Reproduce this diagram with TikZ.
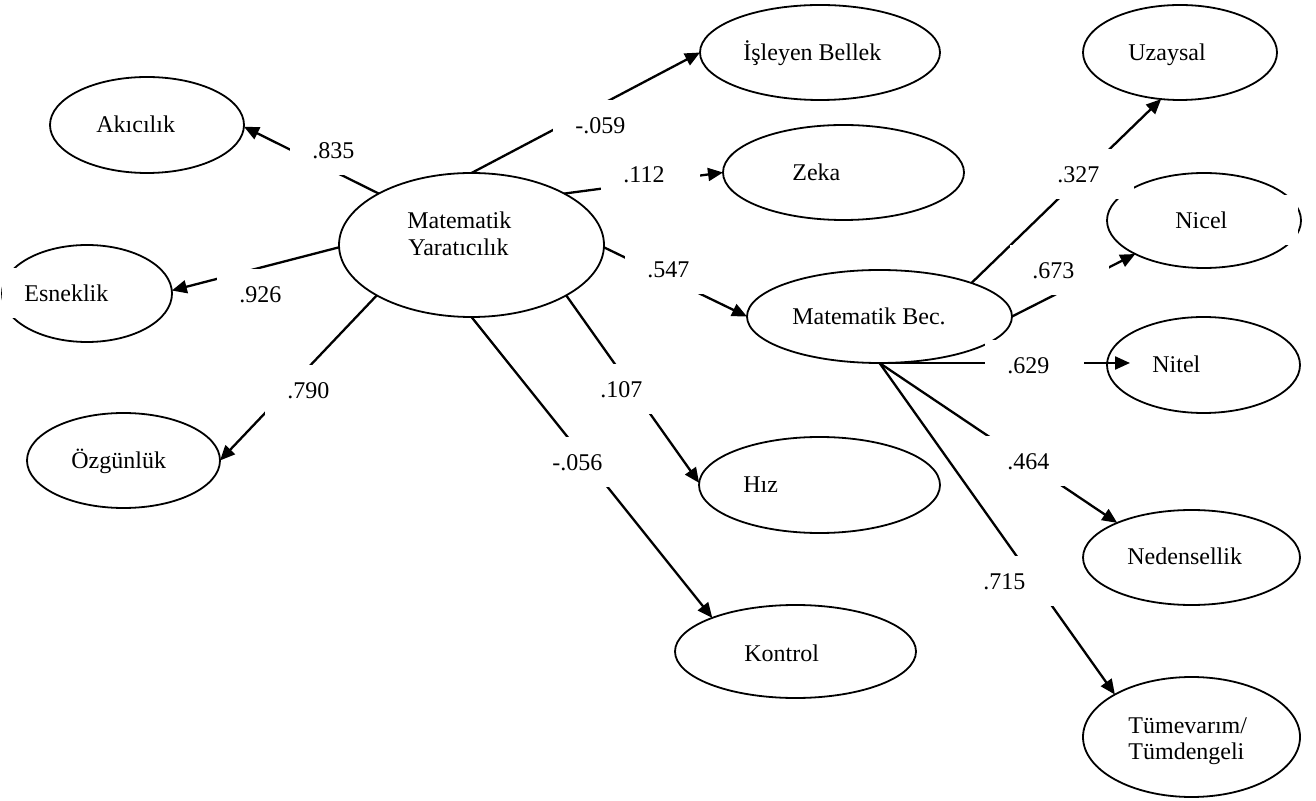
\documentclass[tikz,border=0pt]{standalone}
\usepackage{fontspec}
\setmainfont{Liberation Serif}
\usetikzlibrary{arrows.meta,calc,shapes.geometric}
\begin{document}
\begin{tikzpicture}[x=0.5pt,y=-0.5pt,
  ell/.style={ellipse,draw,line width=0.9pt,inner sep=0pt,outer sep=0pt},
  txt/.style={anchor=base west,inner sep=0pt,font=\fontsize{12}{14}\selectfont},
  lbl/.style={anchor=north west,fill=white,inner xsep=11pt,inner ysep=0pt,text width=27.5pt,align=left,text height=8pt,text depth=0pt,minimum height=25pt,font=\fontsize{12}{14}\selectfont},
  arr/.style={line width=1.15pt,-{Triangle[length=7.5pt,width=6.5pt]}}]
\useasboundingbox (0,0) rectangle (1316,801);
% ellipses
\node[ell,minimum width=97pt,minimum height=48pt] (ak) at (147,125) {};
\node[ell,minimum width=85pt,minimum height=48.5pt] (es) at (87,293.5) {};
\node[ell,minimum width=96.5pt,minimum height=47.5pt] (oz) at (123.5,460.5) {};
\node[ell,minimum width=132.5pt,minimum height=72pt] (ym) at (471.5,245) {};
\node[ell,minimum width=120pt,minimum height=47.5pt] (ib) at (820,52.5) {};
\node[ell,minimum width=120.5pt,minimum height=47.5pt] (ze) at (843.5,172.5) {};
\node[ell,minimum width=132.5pt,minimum height=46.5pt] (mb) at (879.5,316.5) {};
\node[ell,minimum width=120.5pt,minimum height=48pt] (hi) at (819.5,485) {};
\node[ell,minimum width=120.5pt,minimum height=46.5pt] (ko) at (795.5,651.5) {};
\node[ell,minimum width=97pt,minimum height=47.5pt] (uz) at (1180,52.5) {};
\node[ell,minimum width=97pt,minimum height=47.5pt] (ni) at (1204,220.5) {};
\node[ell,minimum width=96.5pt,minimum height=48pt] (nt) at (1203.5,365) {};
\node[ell,minimum width=108.5pt,minimum height=47.5pt] (ne) at (1191.5,557.5) {};
\node[ell,minimum width=108.5pt,minimum height=60pt] (tu) at (1191.5,737) {};
% connectors
\draw[arr] (ym.151) -- (ak.359);
\draw[arr] (ym.181) -- (es.2);
\draw[arr] (ym.208) -- (oz.0);
\draw[arr] (ym.90) -- (ib.180);
\draw[arr] (ym.29) -- (ze.180);
\draw[arr] (ym.359) -- (mb.180);
\draw[arr] (ym.332) -- (hi.179);
\draw[arr] (ym.270) -- (ko.158);
\draw[arr] (mb.20) -- (uz.248);
\draw[arr] (mb.0) -- (ni.206);
\coordinate (ntin) at ($(mb.south -| nt.west)+(23,0)$);
\draw[arr] (mb.south) -- (ntin);
\draw[arr] (mb.south) -- (ne.155);
\draw[arr] (mb.south) -- (tu.151);
% coefficient labels
\node[lbl] (l1) at (290,125) {.835};
\node[lbl] (l2) at (217,269) {.926};
\node[lbl] (l3) at (265,365) {.790};
\node[lbl] (l4) at (553,100) {-.059};
\node[lbl] (l5) at (601,149) {.112};
\node[lbl] (l6) at (625,244) {.547};
\node[lbl] (l7) at (578,364) {.107};
\node[lbl] (l8) at (530,437) {-.056};
\node[lbl] (l9) at (1035,149) {.327};
\node[lbl] (l10) at (1010,245) {.673};
\node[lbl] (l11) at (985,340) {.629};
\node[lbl] (l12) at (985,436) {.464};
\node[lbl] (l13) at (961,556) {.715};
% ellipse texts
\node[txt] (akt) at (96,133) {Akıcılık};
\node[lbl,text width=45pt] (est) at (2,268) {Esneklik};
\node[txt] (ozt) at (71,469) {Özgünlük};
\node[txt] (ymt1) at (407,229) {Matematik};
\node[txt] (ymt2) at (408,256) {Yaratıcılık};
\node[txt] (ibt) at (743,61) {İşleyen Bellek};
\node[txt] (zet) at (792,181) {Zeka};
\node[txt] (mbt) at (792,325) {Matematik Bec.};
\node[txt] (hit) at (743,493) {Hız};
\node[txt] (kot) at (744,661) {Kontrol};
\node[txt] (uzt) at (1128,61) {Uzaysal};
\node[lbl,text width=50.5pt] (nit) at (1153,195) {Nicel};
\node[txt] (ntt) at (1152,373) {Nitel};
\node[txt] (net) at (1127,564) {Nedensellik};
\node[txt] (tut1) at (1128,733) {Tümevarım/};
\node[txt] (tut2) at (1128,759) {Tümdengeli};
\end{tikzpicture}
\end{document}
